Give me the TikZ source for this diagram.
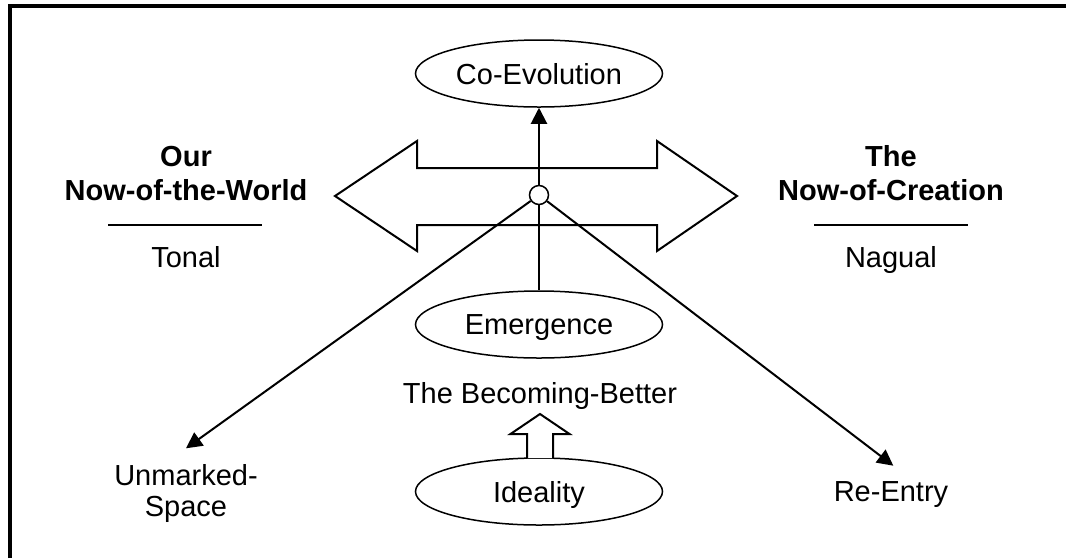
\documentclass[tikz,border=0pt]{standalone}
\usepackage{fontspec}
\setmainfont{Liberation Sans}
\usetikzlibrary{arrows.meta,shapes.geometric}
\begin{document}
\begin{tikzpicture}[x=1pt,y=-1pt,
  every node/.style={font=\fontsize{29}{33}\selectfont, inner sep=0pt},
  oval/.style={ellipse, draw, line width=1.5pt, minimum width=247pt, minimum height=67pt, fill=white, text depth=0pt},
  conn/.style={line width=2pt},
  arr/.style={conn, -{Triangle[length=16pt,width=16pt]}},
  boldtxt/.style={anchor=base, font=\fontsize{29}{33}\selectfont\bfseries},
  lbl/.style={anchor=base},
  block/.style={line width=2pt, fill=white, line join=miter}]
\useasboundingbox (0,0) rectangle (1066,558);
% frame (top and left edges)
\draw[line width=4pt] (9.5,558) -- (9.5,5.5) -- (1066,5.5);
% double block arrow
\draw[block] (335,196) -- (417,141) -- (417,168) -- (657,168) -- (657,141) -- (737,196)
  -- (657,251) -- (657,225) -- (417,225) -- (417,251) -- cycle;
% ellipses
\node[oval] (coevo) at (539,73.5) {Co-Evolution};
\node[oval] (emerg) at (539,324.5) {Emergence};
\node[oval] (ideal) at (539,491.5) {Ideality};
\node[circle, draw, fill=white, line width=1.5pt, minimum size=19pt] (hub) at (539,195) {};
% left labels
\node[boldtxt] (our) at (186,166.7) {Our};
\node[boldtxt] (nowworld) at (186,200) {Now-of-the-World};
\draw[conn] (108,225) -- (262,225);
\node[lbl] (tonal) at (186,267.7) {Tonal};
% right labels
\node[boldtxt] (the) at (891,166.7) {The};
\node[boldtxt] (nowcreation) at (891,200) {Now-of-Creation};
\draw[conn] (814,225) -- (968,225);
\node[lbl] (nagual) at (891,267.7) {Nagual};
% middle / bottom labels
\node[lbl] (becoming) at (540,403.3) {The Becoming-Better};
\node[lbl] (unmarked) at (186,485) {Unmarked-};
\node[lbl] (space) at (186,516.7) {Space};
\node[lbl] (reentry) at (891,501.7) {Re-Entry};
% small up block arrow
\draw[block] (527,458) -- (527,434) -- (510.5,434) -- (540,414) -- (569.5,434) -- (553,434) -- (553,458);
% connectors
\coordinate (unmtip) at (186,448.3);
\coordinate (retip) at (893.3,465.7);
\draw[arr] (hub) -- (coevo);
\draw[conn] (hub) -- (emerg);
\draw[arr] (hub) -- (unmtip);
\draw[arr] (hub) -- (retip);
\end{tikzpicture}
\end{document}
